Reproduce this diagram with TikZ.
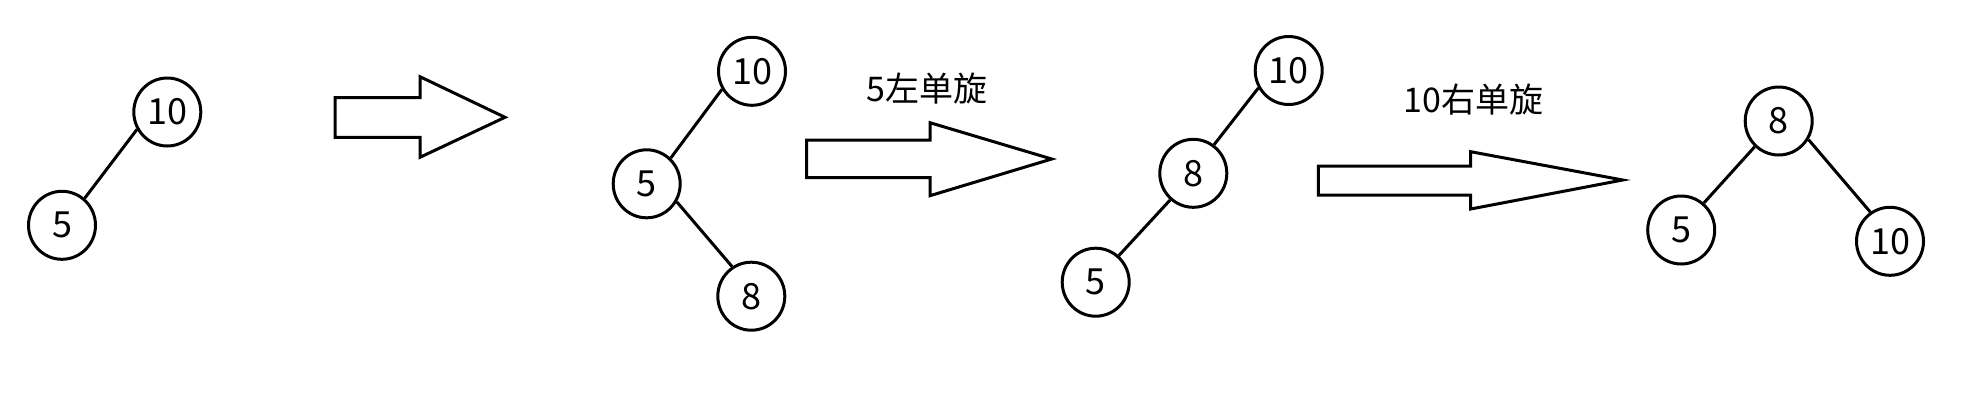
\documentclass[tikz,border=0pt]{standalone}
\usepackage{fontspec}
\newfontfamily\cjk{Noto Sans CJK SC}
\usetikzlibrary{shapes.geometric}
\begin{document}
\begin{tikzpicture}[x=1pt,y=-1pt,
  tnode/.style={ellipse, draw, line width=3pt, minimum width=67pt, minimum height=68pt, inner sep=0pt, font=\cjk\fontsize{36}{40}\selectfont},
  edge/.style={draw, line width=3pt},
  bigarrow/.style={draw, line width=3pt, fill=white, line join=miter},
  lbl/.style={font=\cjk\fontsize{34}{38}\selectfont, inner sep=0pt, anchor=base}]
\useasboundingbox (0,0) rectangle (1975,410);

% tree 1
\node[tnode] (a10) at (167.3,112) {10};
\node[tnode] (a5) at (62,225.3) {5};
\draw[edge] (a10.210) -- (a5.50);

% arrow 1
\draw[bigarrow] (335,97.7) -- (420,97.7) -- (420,76.7) -- (505,117.3) -- (420,157.3) -- (420,137.3) -- (335,137.3) -- cycle;

% tree 2
\node[tnode] (b10) at (752,71.3) {10};
\node[tnode] (b5) at (646.7,183.8) {5};
\node[tnode] (b8) at (751.3,296.2) {8};
\draw[edge] (b10.211) -- (b5.47);
\draw[edge] (b5.329) -- (b8.123);

% label + arrow 2
\node[lbl] (l1) at (926.7,101) {5左单旋};
\draw[bigarrow] (806.7,140) -- (930,140) -- (930,122.7) -- (1051.7,159) -- (930,195.7) -- (930,177.7) -- (806.7,177.7) -- cycle;

% tree 3
\node[tnode] (c10) at (1288.7,70.5) {10};
\node[tnode] (c8) at (1193.3,173.3) {8};
\node[tnode] (c5) at (1095.7,282.2) {5};
\draw[edge] (c10.210) -- (c8.54);
\draw[edge] (c8.229) -- (c5.49);

% label + arrow 3
\node[lbl] (l2) at (1473.3,112.7) {10右单旋};
\draw[bigarrow] (1318.3,166) -- (1470.7,166) -- (1470.7,151.7) -- (1622.7,180) -- (1470.7,209) -- (1470.7,195) -- (1318.3,195) -- cycle;

% tree 4
\node[tnode] (d8) at (1778.7,121) {8};
\node[tnode] (d5) at (1681.2,230) {5};
\node[tnode] (d10) at (1890,241.3) {10};
\draw[edge] (d8.227) -- (d5.50);
\draw[edge] (d8.328) -- (d10.124);
\end{tikzpicture}
\end{document}
